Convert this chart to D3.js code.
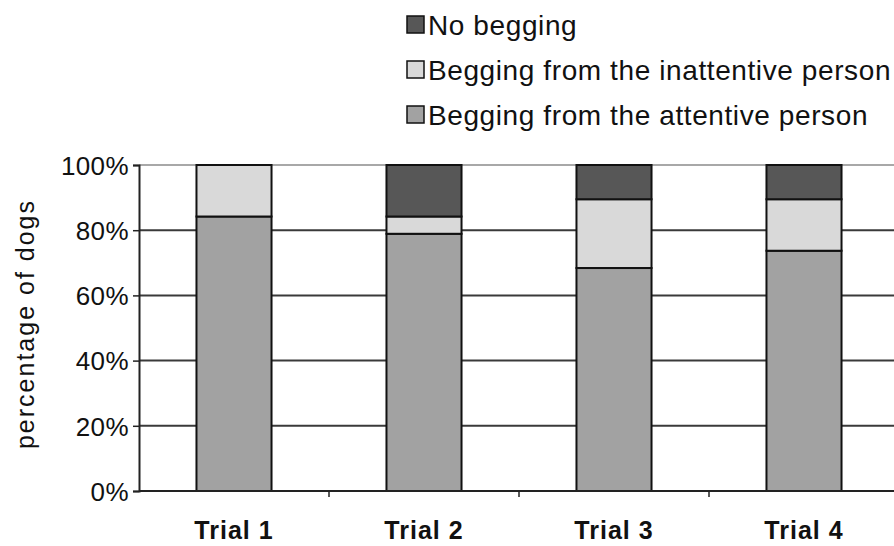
<!DOCTYPE html>
<html>
<head>
<meta charset="utf-8">
<script src="https://cdn.jsdelivr.net/npm/d3@7"></script>
<style>
  body { margin: 0; background: #fff; }
  text { font-family: "Liberation Sans", Arial, Helvetica, sans-serif; fill: #111; }
</style>
</head>
<body>
<script>
/* ------------------------------ data ------------------------------ */
const trials = ["Trial 1", "Trial 2", "Trial 3", "Trial 4"];
// percentage of dogs per trial (n = 19 dogs)
const attentive = [84.2, 78.9, 68.4, 73.7];
const inattentive = [15.8, 5.3, 21.1, 15.8];
const noBegging = [0, 15.8, 10.5, 10.5];
const yTicks = [0, 20, 40, 60, 80, 100];

const seriesNames = {
    attentive: "Begging from the attentive person",
    inattentive: "Begging from the inattentive person",
    none: "No begging"
};
const fills = { attentive: "#a2a2a2", inattentive: "#d9d9d9", none: "#575757" };
const legendOrder = ["none", "inattentive", "attentive"];

/* ------------------------------ layout ------------------------------ */
const width = 894, height = 546;
const plot = { left: 139, right: 899, top: 165, bottom: 491 };

const svg = d3.select("body").append("svg")
    .attr("width", width)
    .attr("height", height);

const rows = trials.map((t, i) => ({
    trial: t,
    attentive: attentive[i],
    inattentive: inattentive[i],
    none: noBegging[i]
}));
const stacked = d3.stack().keys(["attentive", "inattentive", "none"])(rows);

const x = d3.scaleBand()
    .domain(trials)
    .range([plot.left, plot.right])
    .paddingInner(0.605)
    .paddingOuter(0.3025);

const y = d3.scaleLinear()
    .domain([0, 100])
    .range([plot.bottom, plot.top]);

//gridlines
svg.append("g")
    .selectAll("line")
    .data(yTicks.filter(d => d > 0))
    .join("line")
    .attr("x1", plot.left)
    .attr("x2", plot.right)
    .attr("y1", d => y(d))
    .attr("y2", d => y(d))
    .attr("stroke", d => d === 100 ? "#a8a8a8" : "#3a3a3a")
    .attr("stroke-width", 2);

//bars
svg.append("g")
    .selectAll("g")
    .data(stacked)
    .join("g")
    .attr("fill", d => fills[d.key])
    .selectAll("rect")
    .data(d => d.filter(s => s[1] - s[0] > 0))
    .join("rect")
    .attr("x", d => x(d.data.trial))
    .attr("y", d => y(d[1]))
    .attr("width", x.bandwidth())
    .attr("height", d => y(d[0]) - y(d[1]))
    .attr("stroke", "#111")
    .attr("stroke-width", 2);

//y axis
const yAxis = svg.append("g")
    .attr("transform", `translate(${plot.left},0)`)
    .call(d3.axisLeft(y).tickValues(yTicks).tickFormat(d => d + "%").tickSize(6).tickPadding(4));
yAxis.select(".domain").attr("stroke", "#222").attr("stroke-width", 2);
yAxis.selectAll(".tick line").attr("stroke", "#222").attr("stroke-width", 1.5);
yAxis.selectAll("text")
    .attr("font-family", "Liberation Sans, Arial, sans-serif")
    .attr("font-size", 26)
    .attr("letter-spacing", 0.4)
    .attr("dy", "0.36em")
    .attr("fill", "#111");

//x axis baseline and ticks between categories
svg.append("line")
    .attr("x1", plot.left)
    .attr("x2", plot.right)
    .attr("y1", y(0))
    .attr("y2", y(0))
    .attr("stroke", "#222")
    .attr("stroke-width", 2);
svg.append("g")
    .selectAll("line")
    .data(trials.slice(1))
    .join("line")
    .attr("x1", d => x(d) - (x.step() - x.bandwidth()) / 2)
    .attr("x2", d => x(d) - (x.step() - x.bandwidth()) / 2)
    .attr("y1", y(0))
    .attr("y2", y(0) + 6)
    .attr("stroke", "#222")
    .attr("stroke-width", 1.5);

svg.append("g")
    .selectAll("text")
    .data(trials)
    .join("text")
    .attr("x", d => x(d) + x.bandwidth() / 2)
    .attr("y", 539)
    .attr("text-anchor", "middle")
    .attr("font-size", 25)
    .attr("font-weight", "bold")
    .attr("letter-spacing", 1)
    .text(d => d);

//y axis title
svg.append("text")
    .attr("transform", `translate(34,${(plot.top + plot.bottom) / 2 - 4}) rotate(-90)`)
    .attr("text-anchor", "middle")
    .attr("font-size", 25)
    .attr("letter-spacing", 2)
    .text("percentage of dogs");

/* ------------------------------ legend ------------------------------ */
const legend = svg.append("g")
    .attr("transform", "translate(407,0)")
    .selectAll("g")
    .data(legendOrder)
    .join("g")
    .attr("transform", (d, i) => `translate(0,${35 + i * 45})`);
legend.append("rect")
    .attr("x", 0)
    .attr("y", -19)
    .attr("width", 17)
    .attr("height", 17)
    .attr("fill", d => fills[d])
    .attr("stroke", "#111")
    .attr("stroke-width", 1.5);
legend.append("text")
    .attr("x", 21)
    .attr("y", 0)
    .attr("font-size", 28)
    .attr("letter-spacing", 0.6)
    .text(d => seriesNames[d]);
</script>
</body>
</html>
